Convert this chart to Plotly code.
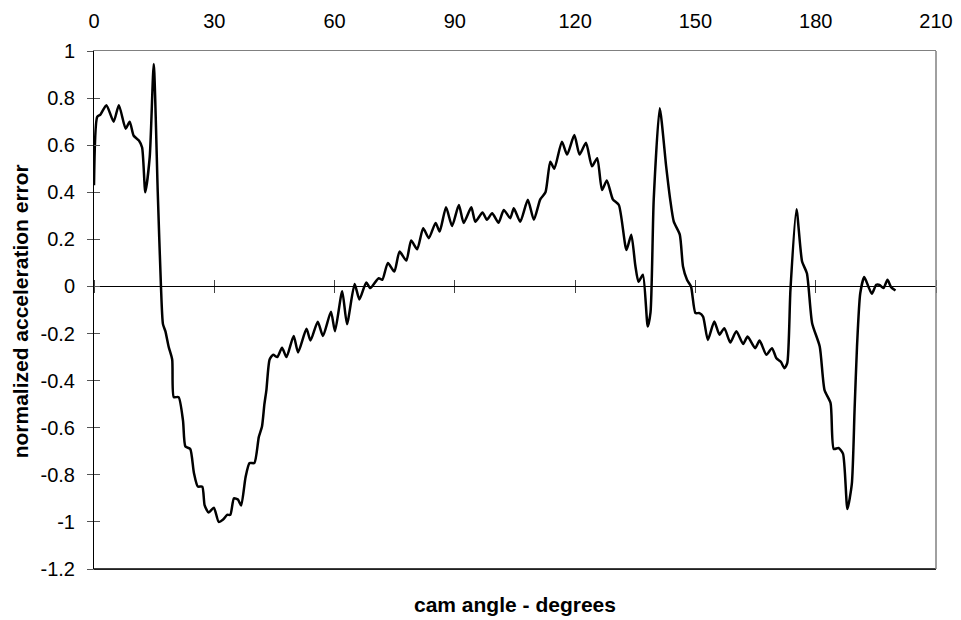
import plotly.graph_objects as go

# cam angle (degrees) and normalized acceleration error
cam_angle = [0, 0.8, 1.6, 3.1, 4.9, 6.2, 7.9, 8.9, 9.9, 11.2, 12.0, 12.8, 13.9, 14.9, 15.9,
             16.7, 17.2, 17.8, 18.6, 19.5, 19.9, 21.1, 22.2, 22.8, 24.0, 24.9, 25.9, 27.0,
             27.6, 28.6, 29.9, 31.1, 32.2, 33.2, 34.0, 34.9, 35.9, 36.7, 37.8, 38.8, 40.0,
             41.1, 41.9, 42.5, 43.0, 43.8, 44.7, 45.7, 46.9, 48.0, 49.8, 50.9, 53.0, 54.0,
             55.8, 57.1, 59.1, 60.1, 61.9, 63.1, 65.0, 66.2, 67.9, 68.9, 71.0, 71.9, 73.3,
             74.9, 76.2, 77.9, 79.1, 80.6, 82.1, 83.5, 85.2, 86.2, 87.8, 89.3, 91.0, 92.2,
             94.1, 95.1, 96.9, 98.0, 99.3, 100.9, 102.2, 103.8, 104.7, 106.3, 108.2, 109.7,
             111.3, 112.6, 113.8, 114.8, 116.7, 118.0, 119.8, 121.1, 122.7, 124.2, 125.5,
             126.7, 127.9, 129.4, 130.9, 132.8, 134.0, 135.0, 135.8, 136.9, 138.1, 138.8,
             139.6, 141.1, 142.7, 143.7, 144.6, 146.1, 146.9, 147.9, 148.9, 150.0, 151.0,
             151.9, 153.1, 154.7, 156.0, 157.2, 158.7, 160.2, 161.9, 163.0, 164.9, 166.0,
             167.7, 169.1, 170.2, 171.3, 172.2, 172.9, 173.7, 175.2, 176.6, 177.8, 179.1,
             181.0, 182.2, 183.7, 184.5, 185.7, 186.8, 187.9, 189.0, 189.7, 190.3, 191.1,
             192.1, 193.2, 194.0, 195.1, 195.9, 196.9, 197.9, 198.8, 199.9]
accel_error = [0.43, 0.72, 0.73, 0.77, 0.70, 0.77, 0.67, 0.70, 0.64, 0.62, 0.59, 0.40, 0.55,
               0.945, 0.40, 0.0, -0.16, -0.19, -0.255, -0.31, -0.47, -0.47, -0.57, -0.68,
               -0.69, -0.79, -0.85, -0.85, -0.93, -0.96, -0.94, -1.00, -0.99, -0.97, -0.97,
               -0.90, -0.905, -0.93, -0.81, -0.75, -0.75, -0.64, -0.595, -0.50, -0.44, -0.31,
               -0.29, -0.30, -0.26, -0.30, -0.21, -0.28, -0.18, -0.23, -0.15, -0.21, -0.107,
               -0.19, -0.02, -0.16, 0.01, -0.055, 0.017, -0.007, 0.035, 0.028, 0.10, 0.063,
               0.148, 0.11, 0.195, 0.158, 0.247, 0.205, 0.27, 0.233, 0.336, 0.257, 0.346,
               0.27, 0.336, 0.275, 0.314, 0.283, 0.311, 0.271, 0.325, 0.29, 0.332, 0.275,
               0.368, 0.283, 0.37, 0.40, 0.53, 0.50, 0.615, 0.56, 0.643, 0.56, 0.61, 0.51,
               0.545, 0.41, 0.45, 0.37, 0.346, 0.155, 0.22, 0.09, 0.02, 0.05, -0.17, -0.11,
               0.37, 0.757, 0.51, 0.37, 0.275, 0.22, 0.085, 0.028, 0.0, -0.113, -0.113,
               -0.128, -0.227, -0.149, -0.205, -0.177, -0.238, -0.19, -0.244, -0.213, -0.262,
               -0.23, -0.29, -0.262, -0.305, -0.32, -0.347, -0.326, -0.014, 0.328, 0.106,
               0.056, -0.156, -0.255, -0.44, -0.495, -0.69, -0.686, -0.71, -0.945, -0.84,
               -0.52, -0.255, -0.03, 0.04, -0.003, -0.031, 0.007, 0.007, -0.007, 0.028,
               -0.003, -0.017]

x_tickvals = [0, 30, 60, 90, 120, 150, 180, 210]
x_ticktext = ["0", "30", "60", "90", "120", "150", "180", "210"]
y_tickvals = [1, 0.8, 0.6, 0.4, 0.2, 0, -0.2, -0.4, -0.6, -0.8, -1, -1.2]
y_ticktext = ["1", "0.8", "0.6", "0.4", "0.2", "0", "-0.2", "-0.4", "-0.6", "-0.8", "-1", "-1.2"]
x_range = [0, 210]
y_range = [-1.2, 1]
x_title = "cam angle - degrees"
y_title = "normalized acceleration error"

FONT = "Arial, Liberation Sans, sans-serif"
W, H = 961, 620
ML, MR, MT, MB = 93.5, 25.3, 51, 50.7
zero_frac = (0 - y_range[0]) / (y_range[1] - y_range[0])

fig = go.Figure()
fig.add_trace(go.Scatter(x=cam_angle, y=accel_error, mode="lines",
                         line=dict(color="black", width=2.5, shape="spline", smoothing=0.6),
                         hoverinfo="skip", showlegend=False))
# helper traces so overlay axes (cross ticks) are drawn
for xa, ya in [("x2", "y"), ("x3", "y"), ("x", "y2")]:
    fig.add_trace(go.Scatter(x=[x_tickvals[0]], y=[0], xaxis=xa, yaxis=ya, mode="markers",
                             marker=dict(size=1, opacity=0), hoverinfo="skip", showlegend=False))

plot_w = W - ML - MR
plot_h = H - MT - MB

fig.update_layout(
    width=W, height=H,
    margin=dict(l=ML, r=MR, t=MT, b=MB, autoexpand=False),
    paper_bgcolor="white", plot_bgcolor="white",
    font=dict(family=FONT, size=20, color="black"),
    xaxis=dict(range=x_range, side="top", tickvals=x_tickvals, ticktext=x_ticktext,
               ticks="outside", ticklen=14, tickcolor="rgba(0,0,0,0)",
               showgrid=False, zeroline=False, showline=True, linecolor="#808080",
               linewidth=1, mirror=True),
    xaxis2=dict(range=x_range, overlaying="x", anchor="free", position=zero_frac,
                side="bottom", tickvals=x_tickvals, ticks="outside", ticklen=6,
                tickcolor="#444", showticklabels=False, showgrid=False, zeroline=False,
                showline=False),
    xaxis3=dict(range=x_range, overlaying="x", anchor="free", position=zero_frac,
                side="top", tickvals=x_tickvals, ticks="outside", ticklen=6,
                tickcolor="#444", showticklabels=False, showgrid=False, zeroline=False,
                showline=False),
    yaxis=dict(range=y_range, tickvals=y_tickvals, ticktext=y_ticktext,
               ticks="outside", ticklen=6, tickcolor="#555", ticklabelstandoff=8,
               showgrid=False, zeroline=True, zerolinecolor="black", zerolinewidth=1,
               showline=True, linecolor="black", linewidth=1),
    yaxis2=dict(range=y_range, overlaying="y", anchor="x", side="left",
                tickvals=y_tickvals, ticks="inside", ticklen=6, tickcolor="#555",
                showticklabels=False, showgrid=False, zeroline=False, showline=False),
    shapes=[
        dict(type="line", xref="paper", yref="paper", x0=0, x1=1, y0=0, y1=0,
             line=dict(color="black", width=1.5)),
        dict(type="line", xref="paper", yref="paper", x0=1, x1=1, y0=0, y1=1,
             line=dict(color="#808080", width=1.5)),
    ],
    annotations=[
        dict(text="<b>" + x_title + "</b>", xref="paper", yref="paper", x=0.5,
             y=-(605 - (H - MB)) / plot_h, xanchor="center", yanchor="middle",
             showarrow=False, font=dict(size=21)),
        dict(text="<b>" + y_title + "</b>", xref="paper", yref="paper",
             x=-(ML - 20) / plot_w, y=(H - MB - 312) / plot_h, xanchor="center",
             yanchor="middle", textangle=-90, showarrow=False, font=dict(size=21)),
    ],
)

fig.write_html("out.html")
